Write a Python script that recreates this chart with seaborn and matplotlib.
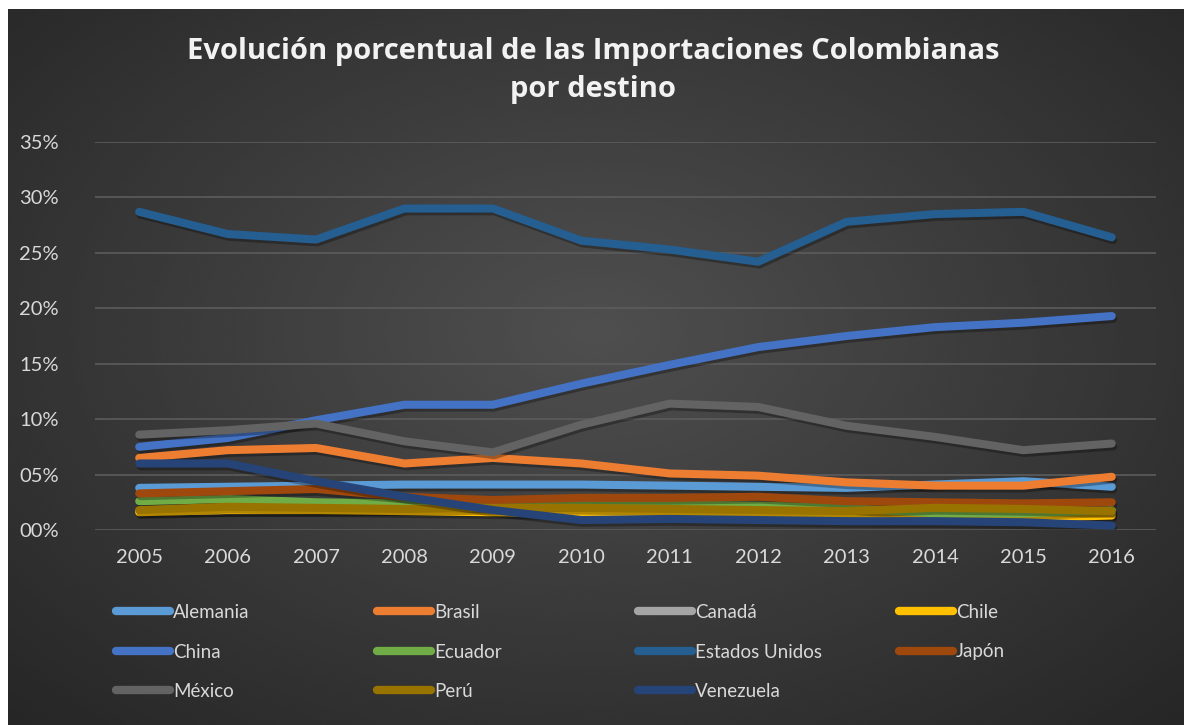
import numpy as np
import pandas as pd
import matplotlib
matplotlib.use("Agg")
import matplotlib.pyplot as plt
import matplotlib.patheffects as pe
from matplotlib.lines import Line2D
from matplotlib.ticker import FuncFormatter
import seaborn as sns

# Datos (porcentaje de importaciones por país de origen)
anios = [2005, 2006, 2007, 2008, 2009, 2010, 2011, 2012, 2013, 2014, 2015, 2016]
paises = ["Alemania", "Brasil", "Canadá", "Chile", "China", "Ecuador",
          "Estados Unidos", "Japón", "México", "Perú", "Venezuela"]

alemania = [3.8, 3.9, 4.0, 4.1, 4.1, 4.1, 4.0, 3.9, 3.8, 4.1, 4.4, 3.9]
brasil = [6.5, 7.2, 7.4, 6.0, 6.5, 6.0, 5.1, 4.9, 4.3, 4.0, 4.0, 4.8]
canada = [1.7, 1.8, 1.8, 1.9, 1.8, 1.8, 1.7, 1.7, 1.8, 1.7, 1.6, 1.5]
chile = [1.6, 1.8, 1.8, 1.7, 1.6, 1.5, 1.4, 1.3, 1.2, 1.2, 1.1, 1.3]
china = [7.5, 8.3, 9.9, 11.3, 11.3, 13.2, 14.9, 16.5, 17.5, 18.3, 18.7, 19.3]
ecuador = [2.6, 2.8, 2.5, 2.4, 2.1, 2.3, 2.3, 2.2, 2.0, 1.5, 1.5, 1.8]
estados_unidos = [28.7, 26.7, 26.2, 29.0, 29.0, 26.1, 25.3, 24.2, 27.8, 28.5, 28.7, 26.4]
japon = [3.3, 3.5, 3.7, 3.0, 2.7, 2.9, 2.9, 3.0, 2.6, 2.5, 2.4, 2.5]
mexico = [8.6, 9.0, 9.6, 8.0, 7.0, 9.5, 11.4, 11.1, 9.4, 8.4, 7.2, 7.8]
peru = [1.8, 2.1, 2.0, 1.9, 2.0, 2.0, 1.9, 1.8, 1.7, 2.0, 1.9, 1.7]
venezuela = [6.0, 6.0, 4.4, 3.0, 1.8, 0.9, 1.0, 0.9, 0.8, 0.8, 0.7, 0.4]

series = [alemania, brasil, canada, chile, china, ecuador,
          estados_unidos, japon, mexico, peru, venezuela]
colores = ["#5B9BD5", "#ED7D31", "#A5A5A5", "#FFC000", "#4472C4", "#70AD47",
           "#255E91", "#9E480E", "#636363", "#997300", "#264478"]

df = pd.DataFrame({
    "anio": anios * len(paises),
    "pais": np.repeat(paises, len(anios)),
    "valor": np.concatenate(series) / 100,
})

sns.set_theme(style="dark")
plt.rcParams["font.family"] = ["Lato", "DejaVu Sans"]

W, H = 1186, 725
fig = plt.figure(figsize=(W / 100, H / 100), dpi=100, facecolor="white")

# fondo con degradado radial (gris al centro, oscuro en los bordes)
bg = fig.add_axes([8 / W, 0, 1 - 10 / W, 1 - 9 / H])
yy, xx = np.mgrid[0:1:300j, 0:1:500j]
r = np.sqrt(((xx - 0.5) / 0.75) ** 2 + ((yy - 0.45) / 0.8) ** 2)
r = np.clip(r / r.max(), 0, 1)
bg.imshow(0.31 - 0.16 * r, cmap="gray", vmin=0, vmax=1, aspect="auto",
          interpolation="bicubic")
bg.set_axis_off()
bg.set_zorder(-10)

ax = fig.add_axes([95 / W, (H - 530) / H, (1156 - 95) / W, (530 - 142) / H])
ax.set_facecolor("none")
sombra = [pe.SimpleLineShadow(offset=(1, -2), shadow_color="black", alpha=0.3),
          pe.Normal()]
sns.lineplot(data=df, x="anio", y="valor", hue="pais", hue_order=paises,
             palette=dict(zip(paises, colores)), linewidth=5.8, legend=False,
             ax=ax, solid_capstyle="round", solid_joinstyle="round",
             path_effects=sombra)

ax.set_xlim(2004.5, 2016.5)
ax.set_ylim(0, 0.35)
ax.set_yticks(np.arange(0, 0.351, 0.05))
ax.yaxis.set_major_formatter(FuncFormatter(lambda v, p: f"{round(v * 100):02d}%"))
ax.set_xticks(anios)
ax.set_xlabel("")
ax.set_ylabel("")
ax.grid(axis="y", color="#5c5c5c", linewidth=1.2)
ax.grid(axis="x", visible=False)
for s in ax.spines.values():
    s.set_visible(False)
ax.tick_params(axis="both", colors="#d9d9d9", labelsize=14.5, length=0)
ax.tick_params(axis="y", pad=26)
ax.tick_params(axis="x", pad=14)

titulo = dict(ha="center", va="center", color="#f2f2f2", fontsize=21,
              fontweight="bold", family=["Open Sans", "DejaVu Sans"])
fig.text(0.5, 1 - 51 / H, "Evolución porcentual de las Importaciones Colombianas",
         **titulo)
fig.text(0.5, 1 - 90 / H, "por destino", **titulo)

# leyenda en 4 columnas con separación uniforme, como en Excel
handles = [Line2D([0], [0], color=c, linewidth=6, solid_capstyle="round")
           for c in colores]
col_x = [116, 377, 638, 899]
for j, x0 in enumerate(col_x):
    idx = list(range(j, len(paises), 4))
    leg = fig.legend([handles[i] for i in idx], [paises[i] for i in idx],
                     loc="upper left", bbox_to_anchor=(x0 / W, 1 - 604 / H),
                     frameon=False, fontsize=13.5, handlelength=2.9,
                     handletextpad=0.15, labelspacing=1.2, borderpad=0,
                     borderaxespad=0)
    for t in leg.get_texts():
        t.set_color("#d9d9d9")

fig.savefig("out.png", dpi=100, facecolor=fig.get_facecolor())
